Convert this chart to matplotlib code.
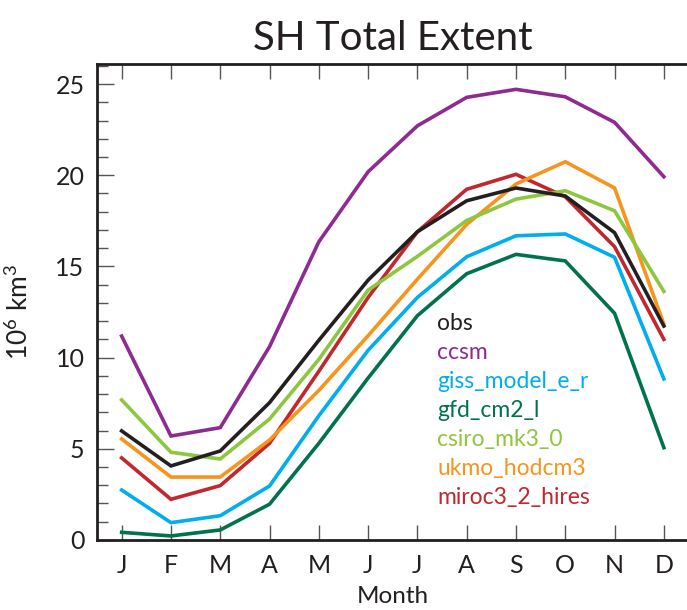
import matplotlib
matplotlib.use("Agg")
import matplotlib.pyplot as plt
from matplotlib.ticker import MultipleLocator

plt.rcParams["font.family"] = ["Lato", "DejaVu Sans"]
plt.rcParams["mathtext.default"] = "regular"

# ---------- Data ----------
months = ["J", "F", "M", "A", "M", "J", "J", "A", "S", "O", "N", "D"]

obs = [5.98, 4.06, 4.88, 7.53, 10.95, 14.25, 16.9, 18.6, 19.3, 18.86, 16.85, 11.73]
ccsm = [11.18, 5.70, 6.16, 10.6, 16.35, 20.19, 22.71, 24.27, 24.71, 24.30, 22.90, 19.92]
giss_model_e_r = [2.74, 0.95, 1.33, 2.96, 6.81, 10.4, 13.3, 15.53, 16.68, 16.78, 15.50, 8.83]
gfd_cm2_1 = [0.42, 0.22, 0.55, 1.96, 5.3, 8.88, 12.3, 14.6, 15.66, 15.30, 12.43, 5.06]
csiro_mk3_0 = [7.68, 4.81, 4.44, 6.63, 9.9, 13.7, 15.55, 17.52, 18.69, 19.15, 18.05, 13.63]
ukmo_hodcm3 = [5.54, 3.45, 3.45, 5.48, 8.2, 11.2, 14.3, 17.3, 19.52, 20.74, 19.30, 11.84]
miroc3_2_hires = [4.50, 2.23, 2.98, 5.30, 9.25, 13.3, 16.9, 19.23, 20.05, 18.82, 16.08, 11.00]

labels = ["obs", "ccsm", "giss_model_e_r", "gfd_cm2_l",
          "csiro_mk3_0", "ukmo_hodcm3", "miroc3_2_hires"]
values = [obs, ccsm, giss_model_e_r, gfd_cm2_1,
          csiro_mk3_0, ukmo_hodcm3, miroc3_2_hires]
colors = ["#231f20", "#8e2a91", "#00aeef", "#00734a",
          "#8dc63f", "#f7941d", "#c1272d"]

# ---------- Plot ----------
fig = plt.figure(figsize=(6.87, 6.10), dpi=100)
ax = fig.add_axes([0.1412, 0.1148, 0.861, 0.7803])

x = list(range(1, 13))
# draw in reverse so obs ends on top
for vals, color in zip(values[::-1], colors[::-1]):
    ax.plot(x, vals, color=color, lw=2.6, solid_joinstyle="miter", zorder=3)

ax.set_xlim(0.5, 12.5)
ax.set_ylim(0, 26.1)

ax.set_xticks(x)
ax.set_xticklabels(months)
ax.yaxis.set_major_locator(MultipleLocator(5))
ax.yaxis.set_minor_locator(MultipleLocator(1))

ax.tick_params(axis="x", direction="in", length=11, width=1, color="#555555",
               top=True, labelsize=18, pad=10, labelcolor="#231f20")
ax.tick_params(axis="y", which="major", direction="in", length=12, width=1,
               color="#555555", labelsize=18, pad=9, labelcolor="#231f20")
ax.tick_params(axis="y", which="minor", direction="in", length=8, width=1,
               color="#555555")

for sp in ax.spines.values():
    sp.set_linewidth(2)
    sp.set_color("#231f20")

ax.set_title("SH Total Extent", fontsize=29, color="#231f20", pad=10)
ax.set_xlabel("Month", fontsize=17.5, color="#231f20")
ax.xaxis.set_label_coords(0.5, -0.097)
ax.set_ylabel("10$^6$ km$^3$", fontsize=19, color="#231f20")
ax.yaxis.set_label_coords(-0.108, 0.479)

for i, (lab, color) in enumerate(zip(labels, colors)):
    ax.text(0.575, 0.454 - i * 0.0609, lab, color=color, fontsize=16.5,
            transform=ax.transAxes, va="center", ha="left")

fig.savefig("out.png", dpi=100)
